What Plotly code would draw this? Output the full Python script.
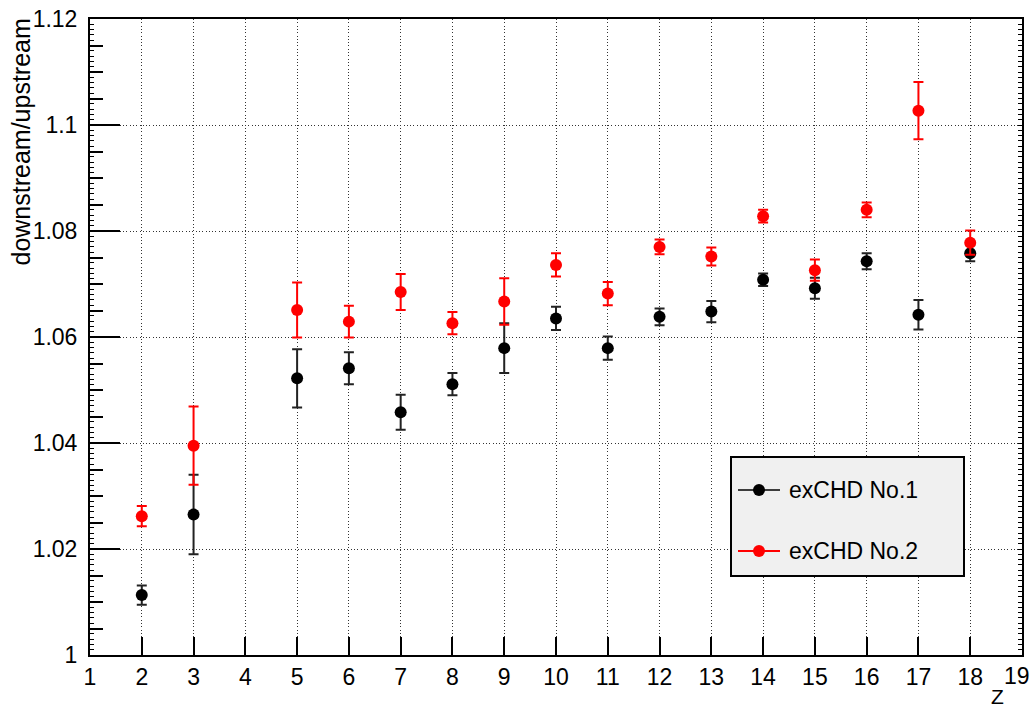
import plotly.graph_objects as go

# ---- data ----
z_values = [2, 3, 5, 6, 7, 8, 9, 10, 11, 12, 13, 14, 15, 16, 17, 18]
chd1_ratio = [1.0113, 1.0265, 1.0522, 1.0541, 1.0458, 1.0511, 1.0579, 1.0635,
              1.0579, 1.0638, 1.0648, 1.0708, 1.0692, 1.0743, 1.0642, 1.0758]
chd1_err = [0.0018, 0.0075, 0.0055, 0.0030, 0.0033, 0.0021, 0.0047, 0.0022,
            0.0022, 0.0016, 0.0020, 0.0012, 0.0020, 0.0015, 0.0028, 0.0015]
chd2_ratio = [1.0262, 1.0395, 1.0651, 1.0629, 1.0685, 1.0626, 1.0667, 1.0736,
              1.0682, 1.0770, 1.0752, 1.0828, 1.0726, 1.0840, 1.1027, 1.0778]
chd2_err = [0.0019, 0.0074, 0.0052, 0.0030, 0.0034, 0.0021, 0.0044, 0.0022,
            0.0022, 0.0014, 0.0017, 0.0012, 0.0020, 0.0014, 0.0054, 0.0023]
series_names = ["exCHD No.1", "exCHD No.2"]
x_ticks = list(range(1, 20))
x_tick_labels = [str(v) for v in x_ticks]
y_ticks = [1.0, 1.02, 1.04, 1.06, 1.08, 1.1, 1.12]

FONT = "Liberation Sans, Arial, Helvetica, sans-serif"
W, H = 1033, 710
L, R, T, B = 90, 11, 19, 55
PW, PH = W - L - R, H - T - B

# last label is placed separately so it stays inside the page (as ROOT does)
x_tick_text = x_tick_labels[:-1] + [""]

fig = go.Figure()

fig.add_trace(go.Scatter(
    x=z_values, y=chd1_ratio, mode="markers", name=series_names[0],
    marker=dict(color="black", size=12, symbol="circle"),
    error_y=dict(type="data", array=chd1_err, visible=True,
                 color="#222222", thickness=2, width=5),
    showlegend=False))
fig.add_trace(go.Scatter(
    x=z_values, y=chd2_ratio, mode="markers", name=series_names[1],
    marker=dict(color="#ff0000", size=12, symbol="circle"),
    error_y=dict(type="data", array=chd2_err, visible=True,
                 color="#ff0000", thickness=2, width=5),
    showlegend=False))

# invisible traces to activate the tertiary tick axes
fig.add_trace(go.Scatter(x=[], y=[], yaxis="y2", showlegend=False, hoverinfo="skip"))
fig.add_trace(go.Scatter(x=[], y=[], yaxis="y3", showlegend=False, hoverinfo="skip"))

GRIDDASH = "1px,2.3px"
yr = [1.0, 1.12]
fig.update_layout(
    width=W, height=H,
    margin=dict(l=L, r=R, t=T, b=B, autoexpand=False),
    paper_bgcolor="white", plot_bgcolor="white",
    font=dict(family=FONT, color="black", size=23),
    xaxis=dict(range=[1, 19], tickvals=x_ticks, ticktext=x_tick_text,
               ticks="inside", ticklen=18,
               tickwidth=1.5, tickcolor="black", showline=True, linecolor="black",
               linewidth=2, mirror=True, showgrid=True, gridcolor="#333333",
               gridwidth=1, griddash=GRIDDASH, zeroline=False, automargin=False,
               tickfont=dict(size=23), ticklabelstandoff=0,
               ticklabeloverflow="allow"),
    yaxis=dict(range=yr, tickvals=y_ticks, ticks="inside", ticklen=30,
               tickwidth=1.5, tickcolor="black", showline=True, linecolor="black",
               linewidth=2, mirror=True, showgrid=True, gridcolor="#333333",
               gridwidth=1, griddash=GRIDDASH, zeroline=False, automargin=False,
               tickfont=dict(size=23), ticklabelstandoff=6,
               ticklabeloverflow="allow",
               minor=dict(dtick=0.005, tick0=1.0, ticks="inside", ticklen=13,
                          tickwidth=1.5, tickcolor="black", showgrid=False)),
    yaxis2=dict(range=yr, overlaying="y", side="left", anchor="x", automargin=False,
                tick0=1.0, dtick=0.001, ticks="inside", ticklen=4, tickwidth=1,
                tickcolor="black", showticklabels=False, showgrid=False,
                zeroline=False, showline=False),
    yaxis3=dict(range=yr, overlaying="y", side="right", anchor="x", automargin=False,
                tick0=1.0, dtick=0.001, ticks="inside", ticklen=4, tickwidth=1,
                tickcolor="black", showticklabels=False, showgrid=False,
                zeroline=False, showline=False),
)

def px_x(p):
    return (p - L) / PW

def px_y(p):
    return 1 - (p - T) / PH

annotations = [
    dict(text="downstream/upstream", textangle=-90, xref="paper", yref="paper",
         x=px_x(21), y=px_y(17), xanchor="center", yanchor="top",
         showarrow=False, font=dict(size=25, family=FONT)),
    dict(text="Z", xref="paper", yref="paper", x=px_x(1005), y=px_y(709),
         xanchor="right", yanchor="bottom", showarrow=False, borderpad=0,
         font=dict(size=21, family=FONT)),
    dict(text=x_tick_labels[-1], xref="paper", yref="paper", x=px_x(1031),
         y=px_y(676), xanchor="right", yanchor="middle", showarrow=False,
         borderpad=0, font=dict(size=23, family=FONT)),
]

# legend box (ROOT style)
shapes = [dict(type="rect", xref="paper", yref="paper",
               x0=px_x(731), x1=px_x(964), y0=px_y(576), y1=px_y(457),
               fillcolor="#f0f0f0", line=dict(color="black", width=2), layer="above")]
legend_rows = [(490, "black", series_names[0], 1.5), (551, "#ff0000", series_names[1], 2)]
for ypix, col, name, lw in legend_rows:
    shapes.append(dict(type="line", xref="paper", yref="paper",
                       x0=px_x(738), x1=px_x(780), y0=px_y(ypix), y1=px_y(ypix),
                       line=dict(color=col, width=lw), layer="above"))
    shapes.append(dict(type="circle", xref="paper", yref="paper",
                       xsizemode="pixel", ysizemode="pixel",
                       xanchor=px_x(759), yanchor=px_y(ypix),
                       x0=-6, x1=6, y0=-6, y1=6,
                       fillcolor=col, line=dict(color=col, width=0), layer="above"))
    annotations.append(dict(text=name, xref="paper", yref="paper",
                            x=px_x(787), y=px_y(ypix), xanchor="left",
                            yanchor="middle", showarrow=False,
                            font=dict(size=23, family=FONT)))

fig.update_layout(shapes=shapes, annotations=annotations)
fig.write_html("out.html",
               config={"displayModeBar": False},
               post_script="document.body.style.margin='0';document.body.style.overflow='hidden';")
